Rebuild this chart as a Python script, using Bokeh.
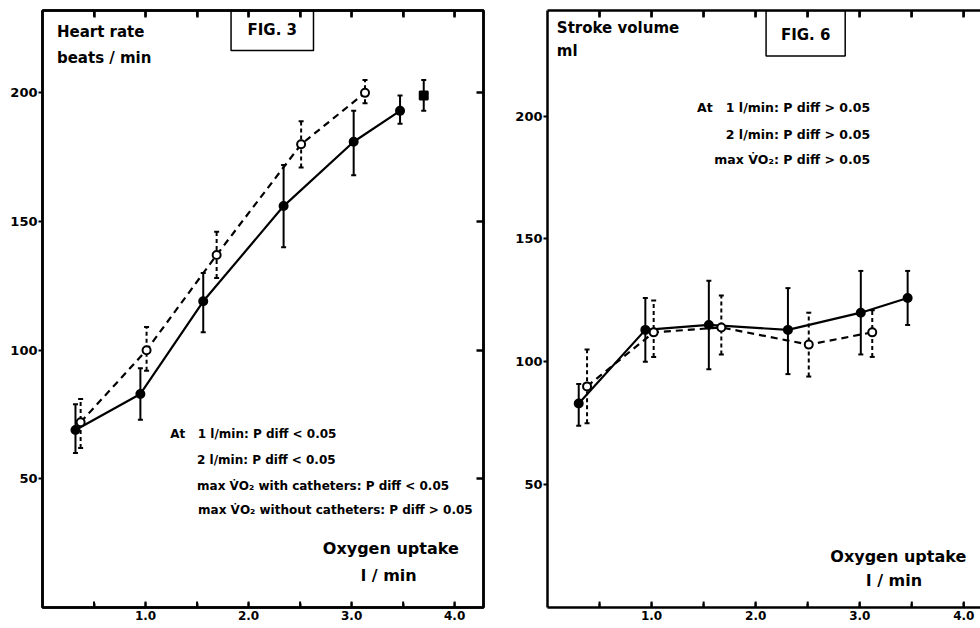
import math
from bokeh.plotting import figure
from bokeh.layouts import row
from bokeh.models import (Range1d, FixedTicker, LinearAxis, Label, BoxAnnotation,
                          Whisker, ColumnDataSource, TeeHead, NumeralTickFormatter,
                          CustomJSTickFormatter)
from bokeh.embed import file_html
from bokeh.resources import INLINE

# ---- FIG. 3 : heart rate (beats/min) vs oxygen uptake (l/min)
hr_solid_x = [0.32, 0.95, 1.56, 2.34, 3.02, 3.47]
hr_solid_y = [69, 83, 119, 156, 181, 193]
hr_solid_lo = [60, 73, 107, 140, 168, 188]
hr_solid_hi = [79, 93, 130, 172, 193, 199]

hr_open_x = [0.37, 1.01, 1.69, 2.51, 3.13]
hr_open_y = [72, 100, 137, 180, 200]
hr_open_lo = [62, 92, 128, 171, 196]
hr_open_hi = [81, 109, 146, 189, 205]

hr_max_x = [3.70]
hr_max_y = [199]
hr_max_lo = [193]
hr_max_hi = [205]

# ---- FIG. 6 : stroke volume (ml) vs oxygen uptake (l/min)
sv_solid_x = [0.30, 0.94, 1.55, 2.31, 3.01, 3.46]
sv_solid_y = [83, 113, 115, 113, 120, 126]
sv_solid_lo = [74, 100, 97, 95, 103, 115]
sv_solid_hi = [91, 126, 133, 130, 137, 137]

sv_open_x = [0.38, 1.02, 1.67, 2.51, 3.12]
sv_open_y = [90, 112, 114, 107, 112]
sv_open_lo = [75, 102, 103, 94, 102]
sv_open_hi = [105, 125, 127, 120, 121]

x_major = [1, 2, 3, 4]
x_minor = [0.5, 1.5, 2.5, 3.5]
y_major = [50, 100, 150, 200]

FONT = "DejaVu Sans"
SP = "\u00a0"


def blank_axis(ticks):
    return LinearAxis(ticker=FixedTicker(ticks=sorted(ticks)),
                      formatter=CustomJSTickFormatter(code="return ''"),
                      major_tick_in=7, major_tick_out=0, minor_tick_in=0, minor_tick_out=0,
                      major_label_standoff=0,
                      axis_line_width=2.5, axis_line_color="black",
                      major_tick_line_width=2.5, major_tick_line_color="black")


def frame_ticks(p):
    # inward tick marks on the top and bottom frame edges (half of each dash is clipped)
    ticks = sorted(x_minor + x_major)
    for edge in (p.y_range.end, p.y_range.start):
        p.scatter(ticks, [edge] * len(ticks), marker="dash", angle=math.pi / 2,
                  size=12, line_color="black", line_width=2)


def style_axes(p, right_axis=True):
    p.xaxis.ticker = FixedTicker(ticks=x_major, minor_ticks=x_minor)
    p.xaxis.formatter = NumeralTickFormatter(format="0.0")
    p.yaxis.ticker = FixedTicker(ticks=y_major)
    for ax in p.xaxis:
        ax.major_tick_in = 5
        ax.major_tick_out = 0
        ax.minor_tick_in = 4
        ax.minor_tick_out = 0
        ax.major_label_standoff = 3
    for ax in p.yaxis:
        ax.major_tick_in = 0
        ax.major_tick_out = 4
        ax.minor_tick_out = 0
        ax.minor_tick_in = 0
        ax.major_label_standoff = 1
    for ax in list(p.xaxis) + list(p.yaxis):
        ax.axis_line_width = 2.5
        ax.major_tick_line_width = 2
        ax.minor_tick_line_width = 2
        ax.major_label_text_font = FONT
        ax.major_label_text_font_style = "bold"
        ax.major_label_text_color = "black"
    for ax in p.xaxis:
        ax.major_label_text_font_size = "12px"
    for ax in p.yaxis:
        ax.major_label_text_font_size = "13px"
    p.add_layout(blank_axis(x_minor + x_major), "above")
    if right_axis:
        p.add_layout(blank_axis(y_major), "right")
    p.xgrid.visible = False
    p.ygrid.visible = False
    frame_ticks(p)


def series(p, x, y, lo, hi, dashed, connect=True, marker="circle"):
    src = ColumnDataSource(dict(x=x, y=y, lo=lo, hi=hi))
    dash = "4 3" if dashed else "solid"
    w = Whisker(base="x", upper="hi", lower="lo", source=src,
                line_width=2, line_color="black", line_dash=dash,
                upper_head=TeeHead(size=5, line_width=2, line_color="black"),
                lower_head=TeeHead(size=5, line_width=2, line_color="black"))
    p.add_layout(w)
    if connect:
        p.line("x", "y", source=src, line_width=2.2, line_color="black",
               line_dash="7 5" if dashed else "solid")
    p.scatter("x", "y", source=src, marker=marker, size=8,
              fill_color="white" if dashed else "black",
              line_color="black", line_width=2)


def label(p, x, y, text, size="12px", align="left"):
    p.add_layout(Label(x=x, y=y, text=text, text_font=FONT, text_font_style="bold",
                       text_font_size=size, text_color="black",
                       text_align=align, text_baseline="middle"))


def fig_box(p, left, right, bottom, top):
    p.add_layout(BoxAnnotation(left=left, right=right, bottom=bottom, top=top,
                               fill_alpha=0, line_color="black", line_alpha=1,
                               line_width=1.5))


# ---------------- left panel
p1 = figure(width=490, height=628, output_backend="svg", toolbar_location=None, title=None,
            x_range=Range1d(0, 4.28), y_range=Range1d(0, 232),
            min_border_left=42, min_border_right=7, min_border_top=10, min_border_bottom=21)
p1.outline_line_color = "black"
p1.outline_line_width = 2.5
style_axes(p1, right_axis=True)

series(p1, hr_solid_x, hr_solid_y, hr_solid_lo, hr_solid_hi, dashed=False)
series(p1, hr_open_x, hr_open_y, hr_open_lo, hr_open_hi, dashed=True)
series(p1, hr_max_x, hr_max_y, hr_max_lo, hr_max_hi, dashed=False, connect=False, marker="square")

label(p1, 0.14, 223.5, "Heart rate", "15px")
label(p1, 0.14, 213.5, "beats / min", "15px")
fig_box(p1, 1.83, 2.63, 216.5, 232)
label(p1, 2.23, 224.5, "FIG. 3", "15px", "center")
label(p1, 1.24, 67.4, "At" + SP * 3 + "1 l/min: P diff < 0.05")
label(p1, 1.50, 57.4, "2 l/min: P diff < 0.05")
label(p1, 1.50, 47.3, "max V\u0307O\u2082 with catheters: P diff < 0.05")
label(p1, 1.51, 38.0, "max V\u0307O\u2082 without catheters: P diff > 0.05")
label(p1, 3.38, 23.0, "Oxygen uptake", "16px", "center")
label(p1, 3.36, 12.4, "l / min", "16px", "center")

# ---------------- right panel
p2 = figure(width=490, height=628, output_backend="svg", toolbar_location=None, title=None,
            x_range=Range1d(0, 4.16), y_range=Range1d(0, 243),
            min_border_left=57, min_border_right=0, min_border_top=10, min_border_bottom=12)
p2.outline_line_color = None
style_axes(p2, right_axis=False)

series(p2, sv_solid_x, sv_solid_y, sv_solid_lo, sv_solid_hi, dashed=False)
series(p2, sv_open_x, sv_open_y, sv_open_lo, sv_open_hi, dashed=True)

label(p2, 0.09, 236, "Stroke volume", "15px")
label(p2, 0.09, 226.5, "ml", "15px")
fig_box(p2, 2.10, 2.86, 224.5, 243)
label(p2, 2.48, 233, "FIG. 6", "15px", "center")
label(p2, 3.10, 203.4, "At" + SP * 3 + "1 l/min: P diff > 0.05", "12.5px", "right")
label(p2, 3.10, 192.6, "2 l/min: P diff > 0.05", "12.5px", "right")
label(p2, 3.10, 182.5, "max V\u0307O\u2082: P diff > 0.05", "12.5px", "right")
label(p2, 3.37, 20.7, "Oxygen uptake", "16px", "center")
label(p2, 3.33, 11.0, "l / min", "16px", "center")

layout = row(p1, p2)
open("out.html", "w").write(file_html(layout, INLINE))
